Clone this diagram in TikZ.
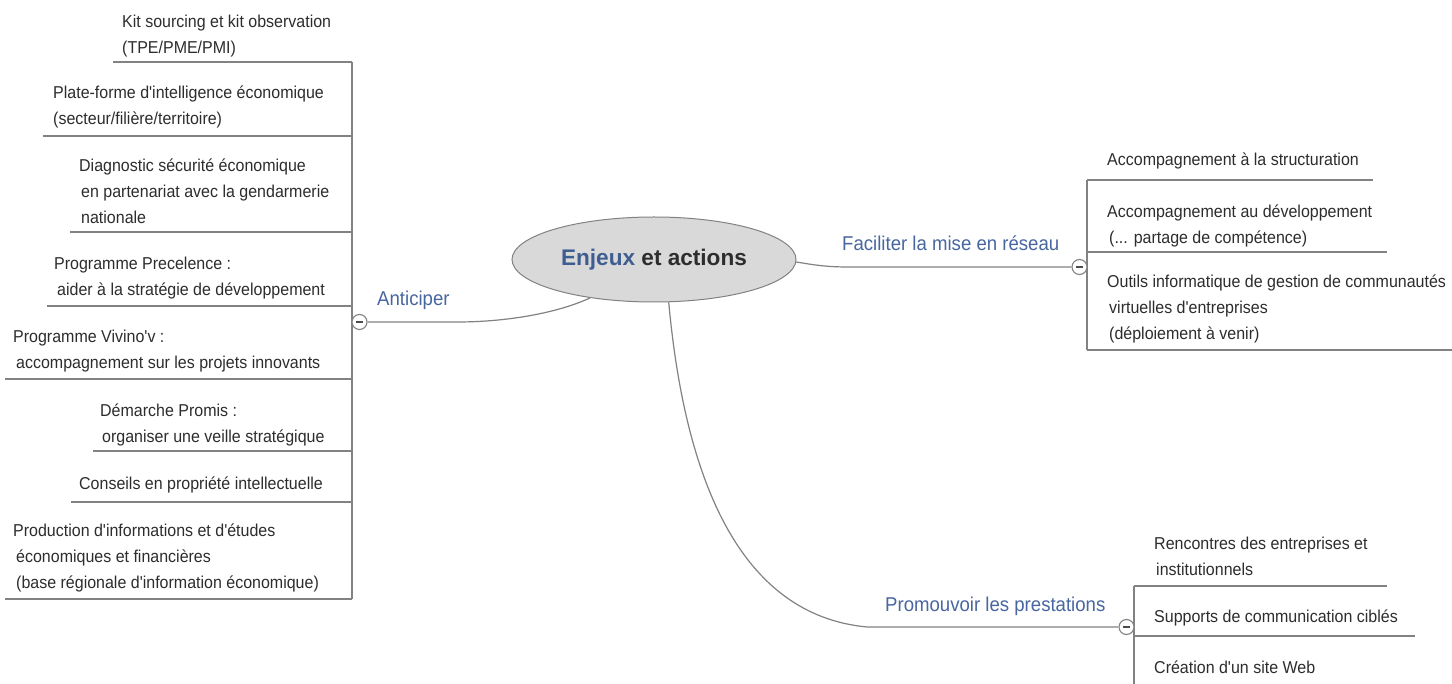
\documentclass[tikz,border=0pt]{standalone}
\usepackage{fontspec}
\setmainfont{Liberation Sans}[FakeStretch=0.93, Ligatures=TeXOff]
\newfontfamily\rootfont{Liberation Sans}
\usetikzlibrary{shapes.geometric}
\definecolor{txt}{RGB}{45,45,45}
\definecolor{branch}{RGB}{72,102,160}
\definecolor{rootblue}{RGB}{62,94,146}
\definecolor{ln}{RGB}{130,130,130}
\definecolor{rootfill}{RGB}{217,217,217}
\begin{document}
\begin{tikzpicture}[x=1pt,y=-1pt,
  item/.style={anchor=base west, inner sep=0pt, align=left, text=txt, font=\fontsize{17.2}{26}\selectfont},
  branchlbl/.style={anchor=base west, inner sep=0pt, text=branch, font=\fontsize{20}{24}\selectfont},
  uline/.style={draw=ln, line width=1.5pt},
  bar/.style={draw=ln, line width=1.5pt},
  conn/.style={draw=ln, line width=1.2pt},
  rootnode/.style={ellipse, draw=ln, fill=rootfill, line width=1pt, minimum width=284pt, minimum height=85pt, inner sep=0pt, text=txt, font=\rootfont\bfseries\fontsize{22.6}{27}\selectfont},
  toggle/.style={circle, draw=ln, fill=white, line width=1.1pt, minimum size=15pt, inner sep=0pt,
    path picture={\draw[line width=1.5pt, draw=black!70] ([xshift=-3.5pt]path picture bounding box.center) -- ([xshift=3.5pt]path picture bounding box.center);}},
]
\useasboundingbox (0,0) rectangle (1452,684);
\fill[white] (0,0) rectangle (1452,684);

% root
\node[rootnode] (root) at (654,259.5) {\textcolor{rootblue}{Enjeux} et actions};

% branch labels
\node[branchlbl] (lA) at (377,306) {Anticiper};
\node[branchlbl] (lF) at (842,251) {Faciliter la mise en réseau};
\node[branchlbl] (lP) at (885,611) {Promouvoir les prestations};

% toggles (positions)
\coordinate (tA) at (359.5,322);
\coordinate (tF) at (1079.5,267);
\coordinate (tP) at (1126.5,627);

% bars
\draw[bar] (352,62) -- (352,599);
\draw[bar] (1087,180) -- (1087,350);
\draw[bar] (1134,586) -- (1134,684);

% left underlines
\draw[uline] (113,62) -- (352,62);
\draw[uline] (43,136) -- (352,136);
\draw[uline] (70,232) -- (352,232);
\draw[uline] (47,306) -- (352,306);
\draw[uline] (5,379) -- (352,379);
\draw[uline] (93,451) -- (352,451);
\draw[uline] (71,502) -- (352,502);
\draw[uline] (5,599) -- (352,599);
% right top underlines
\draw[uline] (1087,180) -- (1373,180);
\draw[uline] (1087,252) -- (1387,252);
\draw[uline] (1087,350) -- (1452,350);
% bottom right underlines
\draw[uline] (1134,586) -- (1387,586);
\draw[uline] (1134,636) -- (1415,636);

% toggle nodes
\node[toggle] (cA) at (tA) {};
\node[toggle] (cF) at (tF) {};
\node[toggle] (cP) at (tP) {};

% connectors
\coordinate (kA) at (457,322);
\coordinate (kF) at (850,267);
\coordinate (kP) at (867,627);
\draw[conn] (root.211) .. controls (560,312) and (510,322) .. (kA) -- (cA.east);
\draw[conn] (root.-1) .. controls (820,266) and (830,267) .. (kF) -- (cF.west);
\draw[conn] (root.-71) .. controls (685,480) and (740,615) .. (kP) -- (cP.west);

% left items (anchor = baseline of the last line)
\node[item] (a1) at (122,53.5) {Kit sourcing et kit observation\\(TPE/PME/PMI)};
\node[item] (a2) at (53,125) {Plate-forme d'intelligence économique\\(secteur/filière/territoire)};
\node[item] (a3) at (79,223.5) {Diagnostic sécurité économique\\\hspace*{2pt}en partenariat avec la gendarmerie\\\hspace*{2pt}nationale};
\node[item] (a4) at (54,295.5) {Programme Precelence :\\\hspace*{3pt}aider à la stratégie de développement};
\node[item] (a5) at (13,368.5) {Programme Vivino'v :\\\hspace*{3pt}accompagnement sur les projets innovants};
\node[item] (a6) at (100,442.5) {Démarche Promis :\\\hspace*{2pt}organiser une veille stratégique};
\node[item] (a7) at (79,489.5) {Conseils en propriété intellectuelle};
\node[item] (a8) at (13,588.5) {Production d'informations et d'études\\\hspace*{3pt}économiques et financières\\\hspace*{3pt}(base régionale d'information économique)};

% right top items
\node[item] (f1) at (1107,165.5) {Accompagnement à la structuration};
\node[item] (f2) at (1107,243.5) {Accompagnement au développement\\\hspace*{2pt}(... partage de compétence)};
\node[item] (f3) at (1107,339.5) {Outils informatique de gestion de communautés\\\hspace*{2pt}virtuelles d'entreprises\\\hspace*{2pt}(déploiement à venir)};

% bottom right items
\node[item] (p1) at (1154,575.5) {Rencontres des entreprises et\\\hspace*{2pt}institutionnels};
\node[item] (p2) at (1154,622.5) {Supports de communication ciblés};
\node[item] (p3) at (1154,673.5) {Création d'un site Web};
\end{tikzpicture}
\end{document}
